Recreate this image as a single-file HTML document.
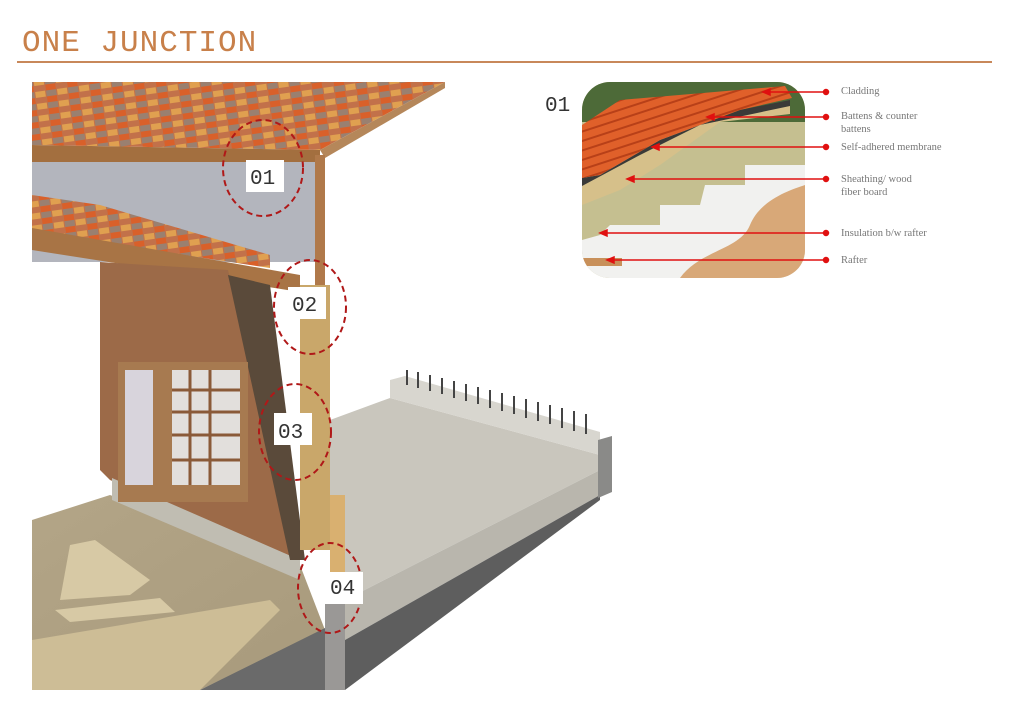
<!DOCTYPE html>
<html><head><meta charset="utf-8"><style>
body{margin:0;width:1024px;height:724px;background:#fff;overflow:hidden;font-family:"Liberation Serif",serif;}
.t{position:absolute;left:22px;top:26px;font-family:"Liberation Mono",monospace;font-size:31px;color:#c8804a;letter-spacing:1px}
.ln{position:absolute;left:17px;top:61px;width:975px;height:2px;background:#c8885a}
.lab{position:absolute;left:841px;font-size:10.5px;color:#777;line-height:13px}
</style></head><body>
<div class="t">ONE JUNCTION</div>
<div class="ln"></div>
<svg width="1024" height="724" style="position:absolute;left:0;top:0">
<defs>
<linearGradient id="gr" x1="0" y1="0" x2="1" y2="1"><stop offset="0" stop-color="#b3a587"/><stop offset="1" stop-color="#a89a7c"/></linearGradient>
<pattern id="tl" width="22" height="12" patternUnits="userSpaceOnUse" patternTransform="rotate(-8)"><rect width="22" height="12" fill="#c2714a"/><rect width="10" height="6" fill="#e0a050"/><rect x="11" y="6" width="10" height="6" fill="#d9602a"/><rect x="11" width="10" height="6" fill="#9a8070"/></pattern>
<pattern id="or" width="14" height="9" patternUnits="userSpaceOnUse" patternTransform="rotate(-18)"><rect width="14" height="9" fill="#e0602a"/><rect width="14" height="2" y="7" fill="#b84018"/></pattern>
<clipPath id="ic"><rect x="582" y="82" width="223" height="196" rx="28"/></clipPath>
</defs>
<!-- ground -->
<polygon points="32,520 110,495 300,565 325,630 200,690 32,690" fill="url(#gr)"/>
<polygon points="32,690 32,640 270,600 280,610 200,690" fill="#cdbd96"/>
<polygon points="70,545 95,540 150,580 130,595 60,600" fill="#d7c9a5"/>
<polygon points="55,610 160,598 175,612 70,622" fill="#d7c9a5"/>
<!-- floor slab -->
<polygon points="330,420 390,398 600,455 600,470 345,600 330,600" fill="#c9c6bd"/>
<polygon points="390,380 405,376 600,432 600,455 390,398" fill="#d8d6cf"/>
<polygon points="345,600 600,470 600,495 345,640" fill="#b9b6ad"/>
<polygon points="345,640 600,495 600,500 345,690" fill="#5e5e5e"/>
<polygon points="200,690 325,628 325,690" fill="#6a6a6a"/>
<rect x="325" y="600" width="20" height="90" fill="#9a9896"/>
<polygon points="598,440 612,436 612,492 598,498" fill="#8a8a88"/>
<g stroke="#444" stroke-width="2">
<line x1="407" y1="370" x2="407" y2="385"/><line x1="418" y1="372" x2="418" y2="388"/><line x1="430" y1="375" x2="430" y2="391"/><line x1="442" y1="378" x2="442" y2="394"/><line x1="454" y1="381" x2="454" y2="398"/><line x1="466" y1="384" x2="466" y2="401"/><line x1="478" y1="387" x2="478" y2="404"/><line x1="490" y1="390" x2="490" y2="408"/><line x1="502" y1="393" x2="502" y2="411"/><line x1="514" y1="396" x2="514" y2="414"/><line x1="526" y1="399" x2="526" y2="418"/><line x1="538" y1="402" x2="538" y2="421"/><line x1="550" y1="405" x2="550" y2="424"/><line x1="562" y1="408" x2="562" y2="428"/><line x1="574" y1="411" x2="574" y2="431"/><line x1="586" y1="414" x2="586" y2="434"/>
</g>
<!-- upper roof -->
<polygon points="32,82 445,82 320,150 32,145" fill="url(#tl)"/>
<polygon points="32,145 320,150 320,168 32,162" fill="#a36f3f"/>
<polygon points="320,150 445,82 445,88 325,158" fill="#b5875a"/>
<rect x="32" y="162" width="284" height="100" fill="#b3b5bd"/>
<rect x="315" y="155" width="10" height="290" fill="#b0794a"/>
<!-- lower roof -->
<polygon points="32,195 100,205 270,255 270,268 32,232" fill="url(#tl)"/>
<polygon points="32,228 300,275 300,292 32,250" fill="#a87445"/>
<!-- wall -->
<polygon points="100,262 228,270 300,560 110,480 100,470" fill="#9c6a48"/>
<polygon points="112,478 300,560 300,580 112,500" fill="#c0bdb2"/>
<polygon points="228,275 270,285 305,560 290,560" fill="#5a4a3a"/>
<rect x="300" y="285" width="30" height="265" fill="#c9a76a"/>
<polygon points="330,495 345,495 345,580 330,580" fill="#d9b070"/>
<!-- window -->
<rect x="118" y="362" width="130" height="140" fill="#a77a50"/>
<rect x="125" y="370" width="28" height="115" fill="#d8d4dc"/>
<rect x="172" y="370" width="68" height="115" fill="#e2dfdc"/>
<g stroke="#8a5a38" stroke-width="3"><line x1="172" y1="390" x2="240" y2="390"/><line x1="172" y1="412" x2="240" y2="412"/><line x1="172" y1="435" x2="240" y2="435"/><line x1="172" y1="460" x2="240" y2="460"/><line x1="190" y1="370" x2="190" y2="485"/><line x1="210" y1="370" x2="210" y2="485"/></g>
<!-- dashed circles -->
<g fill="none" stroke="#b01818" stroke-width="2" stroke-dasharray="6,4">
<ellipse cx="263" cy="168" rx="40" ry="48"/>
<ellipse cx="310" cy="307" rx="36" ry="47"/>
<ellipse cx="295" cy="432" rx="36" ry="48"/>
<ellipse cx="330" cy="588" rx="32" ry="45"/>
</g>
<g font-family="Liberation Mono,monospace" font-size="21" fill="#333">
<rect x="246" y="160" width="38" height="32" fill="#fff"/><text x="250" y="184">01</text>
<rect x="288" y="287" width="38" height="32" fill="#fff"/><text x="292" y="311">02</text>
<rect x="274" y="413" width="38" height="32" fill="#fff"/><text x="278" y="438">03</text>
<rect x="325" y="572" width="38" height="32" fill="#fff"/><text x="330" y="594">04</text>
<text x="545" y="111">01</text>
</g>
<!-- inset -->
<g clip-path="url(#ic)">
<rect x="582" y="82" width="223" height="196" fill="#c5bf90"/>
<rect x="582" y="82" width="223" height="40" fill="#4d6a38"/>
<polygon points="582,240 600,235 610,225 660,225 660,205 700,205 705,185 745,185 745,165 805,165 805,278 582,278" fill="#f1f1ef"/>
<path d="M680,278 C700,250 740,250 750,225 C760,200 790,190 805,185 L805,278 Z" fill="#d8a878"/>
<polygon points="582,185 640,155 700,125 790,105 790,114 720,122 660,165 620,190 582,205" fill="#d6c08a"/>
<polygon points="582,178 600,175 660,140 740,110 790,100 790,106 700,125 640,155 582,186" fill="#3a3a38"/>
<polygon points="582,125 620,100 785,86 792,98 740,110 660,140 600,175 582,178" fill="url(#or)"/>
<rect x="582" y="258" width="40" height="8" fill="#c8905a"/>
</g>
<g stroke="#e01010" stroke-width="1.5" fill="#e01010">
<line x1="768" y1="92" x2="826" y2="92"/><circle cx="826" cy="92" r="2.5"/><polygon points="763,92 770,89 770,95"/>
<line x1="712" y1="117" x2="826" y2="117"/><circle cx="826" cy="117" r="2.5"/><polygon points="707,117 714,114 714,120"/>
<line x1="657" y1="147" x2="826" y2="147"/><circle cx="826" cy="147" r="2.5"/><polygon points="652,147 659,144 659,150"/>
<line x1="632" y1="179" x2="826" y2="179"/><circle cx="826" cy="179" r="2.5"/><polygon points="627,179 634,176 634,182"/>
<line x1="605" y1="233" x2="826" y2="233"/><circle cx="826" cy="233" r="2.5"/><polygon points="600,233 607,230 607,236"/>
<line x1="612" y1="260" x2="826" y2="260"/><circle cx="826" cy="260" r="2.5"/><polygon points="607,260 614,257 614,263"/>
</g>
</svg>
<div class="lab" style="top:85px">Cladding</div>
<div class="lab" style="top:110px">Battens &amp; counter<br>battens</div>
<div class="lab" style="top:141px">Self-adhered membrane</div>
<div class="lab" style="top:173px">Sheathing/ wood<br>fiber board</div>
<div class="lab" style="top:227px">Insulation b/w rafter</div>
<div class="lab" style="top:254px">Rafter</div>
</body></html>
